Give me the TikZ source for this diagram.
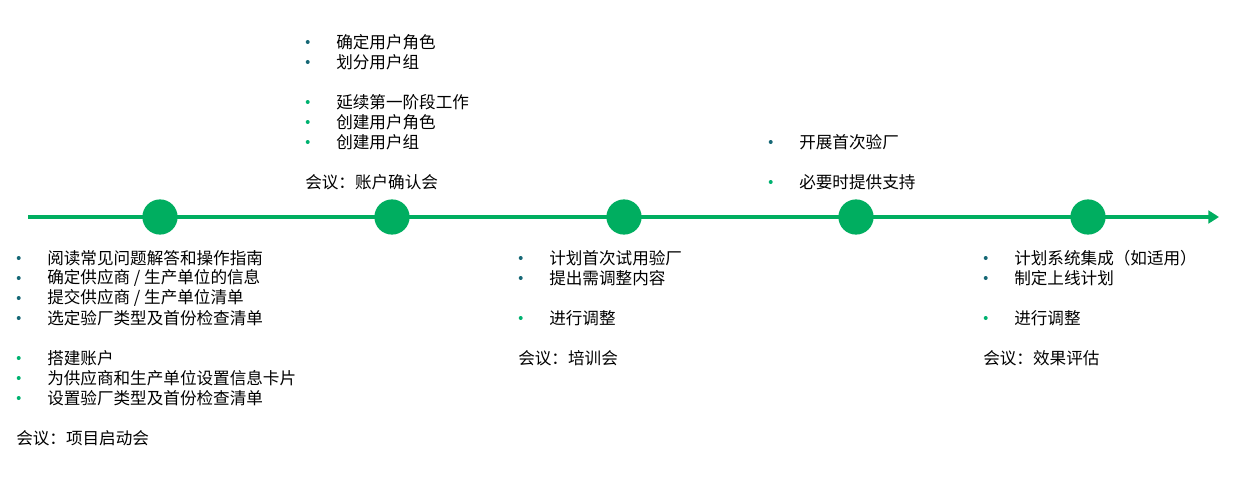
\documentclass[tikz,border=0pt]{standalone}
\usepackage{fontspec}
\newfontfamily\cjk{Noto Sans CJK SC}
\usetikzlibrary{arrows.meta}
\definecolor{LineGreen}{RGB}{0,174,96}
\definecolor{DotTeal}{RGB}{22,104,118}
\definecolor{DotGreen}{RGB}{0,178,112}

\begin{document}
\begin{tikzpicture}[x=0.025cm, y=-0.025cm,
    every node/.style={font=\cjk\fontsize{11.8}{13}\selectfont},
    txt/.style={anchor=west, inner sep=0pt},
    tdot/.style={circle, fill=DotTeal, inner sep=0pt, minimum size=0.1cm},
    gdot/.style={circle, fill=DotGreen, inner sep=0pt, minimum size=0.1cm},
    tline/.style={txt, label={[tdot, label distance=0.65cm]left:{}}},
    gline/.style={txt, label={[gdot, label distance=0.65cm]left:{}}},
    stone/.style={circle, fill=LineGreen, inner sep=0pt, minimum size=0.88cm}]
  \useasboundingbox (0,0) rectangle (1245,480);

  % timeline
  \coordinate (start) at (28,217);
  \coordinate (end) at (1219,217);
  \draw[LineGreen, line width=2.2pt, -{Triangle[length=7.5pt, width=9pt]}] (start) -- (end);
  \node[stone] (m1) at (160,217) {};
  \node[stone] (m2) at (392,217) {};
  \node[stone] (m3) at (624,217) {};
  \node[stone] (m4) at (856,217) {};
  \node[stone] (m5) at (1088,217) {};

  % phase 1
  \node[tline] (a1) at (47,258) {阅读常见问题解答和操作指南};
  \node[tline] (a2) at (47,278) {确定供应商 / 生产单位的信息};
  \node[tline] (a3) at (47,298) {提交供应商 / 生产单位清单};
  \node[tline] (a4) at (47,318) {选定验厂类型及首份检查清单};
  \node[gline] (a5) at (47,358) {搭建账户};
  \node[gline] (a6) at (47,378) {为供应商和生产单位设置信息卡片};
  \node[gline] (a7) at (47,398) {设置验厂类型及首份检查清单};
  \node[txt] (a8) at (16,438) {会议：项目启动会};

  % phase 2
  \node[tline] (b1) at (336,42) {确定用户角色};
  \node[tline] (b2) at (336,62) {划分用户组};
  \node[gline] (b3) at (336,102) {延续第一阶段工作};
  \node[gline] (b4) at (336,122) {创建用户角色};
  \node[gline] (b5) at (336,142) {创建用户组};
  \node[txt] (b6) at (305,182) {会议：账户确认会};

  % phase 3
  \node[tline] (c1) at (549,258) {计划首次试用验厂};
  \node[tline] (c2) at (549,278) {提出需调整内容};
  \node[gline] (c3) at (549,318) {进行调整};
  \node[txt] (c4) at (518,358) {会议：培训会};

  % phase 4
  \node[tline] (d1) at (799,142) {开展首次验厂};
  \node[gline] (d2) at (799,182) {必要时提供支持};

  % phase 5
  \node[tline] (e1) at (1014,258) {计划系统集成（如适用）};
  \node[tline] (e2) at (1014,278) {制定上线计划};
  \node[gline] (e3) at (1014,318) {进行调整};
  \node[txt] (e4) at (983,358) {会议：效果评估};
\end{tikzpicture}
\end{document}
